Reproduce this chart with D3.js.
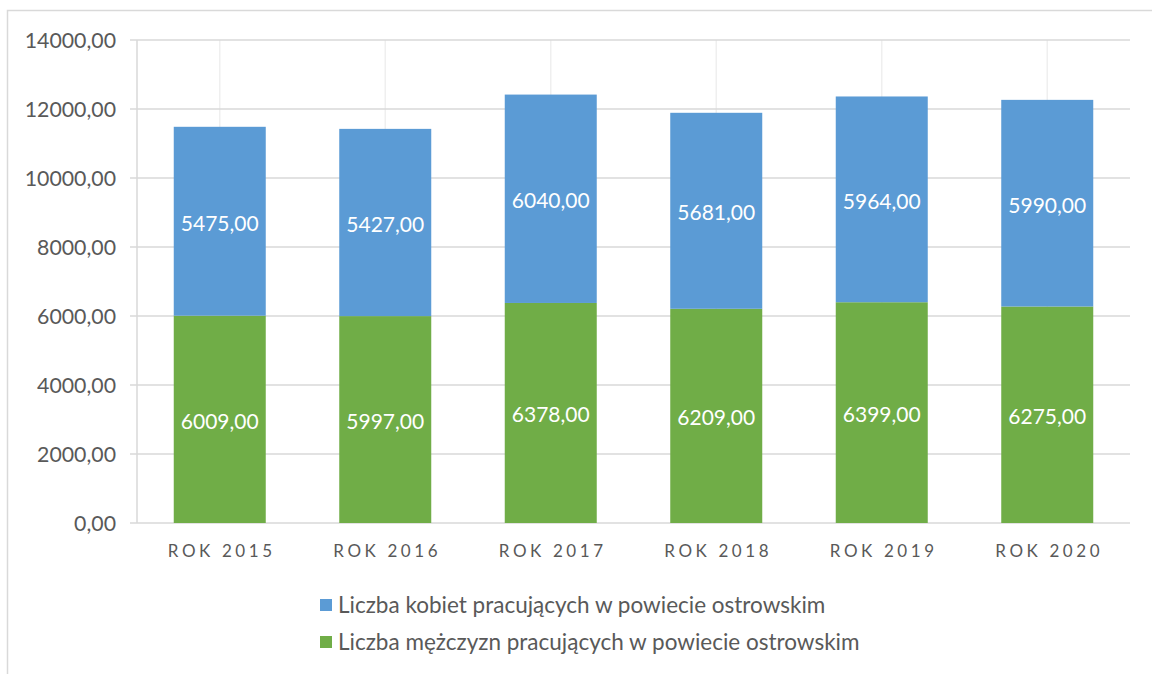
<!DOCTYPE html>
<html><head><meta charset="utf-8">
<script src="https://cdn.jsdelivr.net/npm/d3@7"></script>
<style>body{margin:0;background:#fff;}svg{display:block;}text{font-family:Lato,"Open Sans",sans-serif;}</style>
</head><body>
<svg id="c" width="1152" height="674"></svg>
<script>
const categories = ["ROK 2015","ROK 2016","ROK 2017","ROK 2018","ROK 2019","ROK 2020"];
const men = [6009,5997,6378,6209,6399,6275];
const women = [5475,5427,6040,5681,5964,5990];
const yTicks = [0,2000,4000,6000,8000,10000,12000,14000];
const seriesNames = ["Liczba kobiet pracujących w powiecie ostrowskim","Liczba mężczyzn pracujących w powiecie ostrowskim"];
const colors = {women:"#5b9bd5", men:"#70ad47"};

const svg = d3.select("#c");
const fmt = v => d3.format(".2f")(v).replace(".", ",");

svg.append("rect").attr("x",7.5).attr("y",10.5).attr("width",1300).attr("height",800)
  .attr("fill","none").attr("stroke","#d9d9d9").attr("stroke-width",1.5);

const xc = d3.scaleBand().domain(categories).range([137,1130]);
const y = d3.scaleLinear().domain([0,14000]).range([523,40]);

// vertical gridlines at category centers
svg.append("g").selectAll("line").data(categories).join("line")
  .attr("x1",d=>xc(d)+xc.bandwidth()/2).attr("x2",d=>xc(d)+xc.bandwidth()/2)
  .attr("y1",y(14000)).attr("y2",y(0)).attr("stroke","#efefef").attr("stroke-width",1.5);

// horizontal gridlines
svg.append("g").selectAll("line").data(yTicks).join("line")
  .attr("x1",130).attr("x2",1130).attr("y1",d=>y(d)).attr("y2",d=>y(d))
  .attr("stroke","#d9d9d9").attr("stroke-width",1.5);

// y axis line
svg.append("line").attr("x1",137).attr("x2",137).attr("y1",y(14000)).attr("y2",y(0))
  .attr("stroke","#d9d9d9").attr("stroke-width",1.5);

// y labels
svg.append("g").selectAll("text").data(yTicks).join("text")
  .attr("x",116).attr("y",d=>y(d)).attr("dy","0.38em").attr("text-anchor","end")
  .attr("font-size",21.3).attr("fill","#595959").text(d=>fmt(d));

const bw = 92;
const cx = d => xc(d)+xc.bandwidth()/2;
// men bars
svg.append("g").selectAll("rect").data(categories).join("rect")
  .attr("x",d=>cx(d)-bw/2).attr("width",bw)
  .attr("y",(d,i)=>y(men[i])).attr("height",(d,i)=>y(0)-y(men[i])).attr("fill",colors.men);
// women bars
svg.append("g").selectAll("rect").data(categories).join("rect")
  .attr("x",d=>cx(d)-bw/2).attr("width",bw)
  .attr("y",(d,i)=>y(men[i]+women[i])).attr("height",(d,i)=>y(men[i])-y(men[i]+women[i])).attr("fill",colors.women);

// data labels
svg.append("g").selectAll("text").data(categories).join("text")
  .attr("x",d=>cx(d)).attr("y",(d,i)=>y(men[i]/2)).attr("dy","0.45em").attr("text-anchor","middle")
  .attr("font-size",21).attr("fill","#fff").text((d,i)=>fmt(men[i]));
svg.append("g").selectAll("text").data(categories).join("text")
  .attr("x",d=>cx(d)).attr("y",(d,i)=>y(men[i]+women[i]/2)).attr("dy","0.45em").attr("text-anchor","middle")
  .attr("font-size",21).attr("fill","#fff").text((d,i)=>fmt(women[i]));

// x labels
svg.append("g").selectAll("text").data(categories).join("text")
  .attr("x",d=>cx(d)+2).attr("y",551).attr("dy","0.36em").attr("text-anchor","middle")
  .attr("font-size",17).attr("letter-spacing","3.6px").attr("fill","#595959").text(d=>d);

// legend
const leg = [{name:seriesNames[0],c:colors.women,y:605},{name:seriesNames[1],c:colors.men,y:642}];
const lg = svg.append("g");
lg.selectAll("rect").data(leg).join("rect").attr("x",320).attr("y",d=>d.y-6).attr("width",12).attr("height",12).attr("fill",d=>d.c);
lg.selectAll("text").data(leg).join("text").attr("x",338).attr("y",d=>d.y).attr("dy","0.36em")
  .attr("font-size",22.5).attr("fill","#595959").text(d=>d.name);
</script>
</body></html>
